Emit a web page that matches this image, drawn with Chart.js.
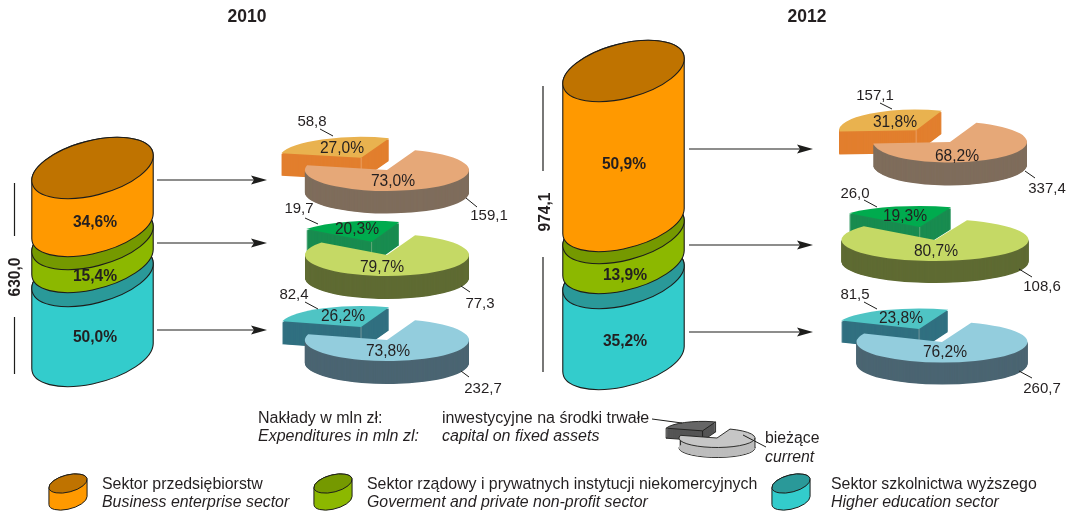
<!DOCTYPE html>
<html lang="pl">
<head>
<meta charset="utf-8">
<title>Nakłady 2010 i 2012</title>
<style>
html,body{margin:0;padding:0;background:#fff;width:1068px;height:511px;overflow:hidden}
#stage{position:relative;width:1068px;height:511px;overflow:hidden;font-family:"Liberation Sans",Arial,sans-serif;color:#231f20}
#stage canvas{position:absolute;pointer-events:none}
.t{position:absolute;white-space:nowrap;line-height:1;font-size:15.6px}
.c{transform:translate(-50%,-50%)}
.l{transform:translate(0,-50%)}
.b{font-weight:bold}
.i{font-style:italic}
.r{transform:translate(-50%,-50%) rotate(-90deg);font-weight:bold}
</style>
</head>
<body>
<div id="stage"></div>
<script src="https://cdn.jsdelivr.net/npm/chart.js@4/dist/chart.umd.min.js"></script>
<script>
// ---------- data ----------
const years = ['2010', '2012'];
const totals = [630.0, 974.1];
const shares2010 = [34.6, 15.4, 50.0];
const shares2012 = [50.9, 13.9, 35.2];
const capital2010 = [58.8, 19.7, 82.4];
const current2010 = [159.1, 77.3, 232.7];
const capital2012 = [157.1, 26.0, 81.5];
const current2012 = [337.4, 108.6, 260.7];
const capitalShare2010 = [27.0, 20.3, 26.2];
const currentShare2010 = [73.0, 79.7, 73.8];
const capitalShare2012 = [31.8, 19.3, 23.8];
const currentShare2012 = [68.2, 80.7, 76.2];
const legendPieValues = [26, 74];
const legendCylinderValue = [1];
const sectorNames = ['Sektor przedsiębiorstw', 'Sektor rządowy i prywatnych instytucji niekomercyjnych', 'Sektor szkolnictwa wyższego'];
const sectorNamesEn = ['Business enterprise sector', 'Goverment and private non-profit sector', 'Higher education sector'];

// ---------- styles and layout ----------
const faceColors = ['#FF9900', '#8CB800', '#33CCCC'];
const capColors = ['#BF7300', '#759900', '#2A9999'];
const wedgeTop = ['#E9B24F', '#00AB4E', '#4FC4C4'];
const wedgeWall = ['#E27F2E', '#198C50', '#317080'];
const bigTop = ['#E6A878', '#C5D965', '#93CDDD'];
const bigWall = ['#7F6D5C', '#5F6B33', '#4B6572'];
const TILT = -14.5 * Math.PI / 180;
const OFFSET_DIVISOR = 4; // Chart.js arcs move by offset / 4

const stage = document.getElementById('stage');
const fmt = v => v.toFixed(1).replace('.', ',');
function text(str, x, y, cls, size) {
  const d = document.createElement('div');
  d.className = 't ' + cls;
  d.textContent = str;
  d.style.left = x + 'px';
  d.style.top = y + 'px';
  if (size) d.style.fontSize = size + 'px';
  stage.appendChild(d);
}
function addCanvas(left, top, w, h) {
  const c = document.createElement('canvas');
  c.style.left = left + 'px';
  c.style.top = top + 'px';
  c.style.width = w + 'px';
  c.style.height = h + 'px';
  c.width = w; c.height = h;
  stage.appendChild(c);
  return c.getContext('2d');
}
const baseOptions = {
  responsive: false, animation: false, events: [], devicePixelRatio: 1,
  layout: { padding: 0 }
};
const noChrome = { legend: { display: false }, tooltip: { enabled: false } };

// ---------- cylinders: bars drawn through their own scales ----------
const cylinderPlugin = {
  id: 'cylinder',
  beforeDatasetsDraw(chart, args, opts) {
    const ctx = chart.ctx;
    for (let i = chart.data.datasets.length - 1; i >= 0; i--) {
      const bar = chart.getDatasetMeta(i).data[0];
      const X = bar.width / 2;
      const rx = X * 1.03, ry = X * 0.45;
      const yTop = bar.y, yBase = bar.base, cx = bar.x;
      const t0 = Math.atan2(-ry * Math.sin(TILT), rx * Math.cos(TILT));
      ctx.save();
      ctx.lineWidth = opts.lineWidth;
      ctx.strokeStyle = '#1d1d1b';
      ctx.lineJoin = 'round';
      ctx.beginPath();
      ctx.ellipse(cx, yBase, rx, ry, TILT, t0, t0 + Math.PI, false);
      ctx.ellipse(cx, yTop, rx, ry, TILT, t0 + Math.PI, t0 + 2 * Math.PI, false);
      ctx.closePath();
      ctx.fillStyle = bar.options.backgroundColor;
      ctx.fill();
      ctx.stroke();
      ctx.beginPath();
      ctx.ellipse(cx, yTop, rx, ry, TILT, 0, 2 * Math.PI);
      ctx.fillStyle = chart.data.datasets[i].capColor;
      ctx.fill();
      ctx.stroke();
      ctx.restore();
    }
    return false;
  }
};
function cylinder(cx, width, values, tops, bottoms, faces, caps, lineWidth) {
  const W = width + 14, H = 511;
  const scales = { x: { display: false } };
  const datasets = values.map((v, i) => {
    const ppu = (bottoms[i] - tops[i]) / v;
    scales['y' + i] = { display: false, min: -(H - bottoms[i]) / ppu, max: v + tops[i] / ppu };
    return {
      data: [v], yAxisID: 'y' + i, grouped: false, barThickness: width,
      backgroundColor: faces[i], capColor: caps[i]
    };
  });
  new Chart(addCanvas(cx - W / 2, 0, W, H), {
    type: 'bar',
    data: { labels: [''], datasets },
    options: { ...baseOptions, scales, plugins: { ...noChrome, cylinder: { lineWidth } } },
    plugins: [cylinderPlugin]
  });
}
cylinder(92.5, 121, shares2010, [168, 239, 276], [226, 262, 356], faceColors, capColors, 1.1);
cylinder(623.5, 121, shares2012, [71, 233, 278], [221, 263, 359], faceColors, capColors, 1.1);
cylinder(68, 38, legendCylinderValue, [483.5], [500.5], [faceColors[0]], [capColors[0]], 1);
cylinder(333, 38, legendCylinderValue, [483.5], [500.5], [faceColors[1]], [capColors[1]], 1);
cylinder(790.5, 38, legendCylinderValue, [483.5], [500.5], [faceColors[2]], [capColors[2]], 1);

// ---------- pies: arcs laid out by Chart.js, squashed and extruded ----------
const piePlugin = {
  id: 'pie3d',
  beforeDatasetsDraw(chart, args, o) {
    const ctx = chart.ctx, arcs = chart.getDatasetMeta(0).data;
    const cx = chart.width / 2, cy = chart.height / 2, k = o.k, depth = o.depth;
    const squash = () => { ctx.translate(cx, cy); ctx.scale(1, k); ctx.translate(-cx, -cy); };
    const shift = arc => (arc.options.offset || 0) / OFFSET_DIVISOR;
    const sectorPath = (arc, dy, R) => {
      const mid = (arc.startAngle + arc.endAngle) / 2, off = shift(arc);
      const ax = arc.x + Math.cos(mid) * off, ay = arc.y + Math.sin(mid) * off + dy;
      ctx.beginPath();
      ctx.moveTo(ax, ay);
      ctx.arc(ax, ay, R, arc.startAngle, arc.endAngle);
      ctx.closePath();
    };
    arcs.forEach((arc, i) => {
      const own = arc.options;
      const R = arc.outerRadius;
      const mid = (arc.startAngle + arc.endAngle) / 2, off = shift(arc);
      const ax = arc.x + Math.cos(mid) * off, ay = arc.y + Math.sin(mid) * off;
      // the library widens an exploded arc slightly; keep the true radius
      const widen = off * (1 - Math.sin(Math.min(Math.PI, arc.circumference)));
      arc.outerRadius = R - widen;
      ctx.save();
      squash();
      const wallOptions = Object.assign(Object.create(own), { backgroundColor: o.walls[i], borderWidth: 0 });
      const wall = d => {
        ctx.save();
        ctx.translate(0, d / k);
        arc.options = wallOptions;
        arc.draw(ctx);
        arc.options = own;
        ctx.restore();
      };
      const strokeNow = () => { ctx.save(); ctx.setTransform(1, 0, 0, 1, 0, 0); ctx.lineWidth = 0.9; ctx.strokeStyle = '#1d1d1b'; ctx.stroke(); ctx.restore(); };
      wall(depth);
      if (o.outline) {
        sectorPath(arc, depth / k, R);
        strokeNow();
      }
      for (let d = depth - 0.6; d >= 1; d -= 0.5) wall(d);
      if (o.outline) {
        const pts = [[ax, ay]];
        [arc.startAngle, arc.endAngle].forEach(t => pts.push([ax + Math.cos(t) * R, ay + Math.sin(t) * R]));
        if (i === 1) pts.push([ax + R, ay]);
        pts.forEach(p => { ctx.beginPath(); ctx.moveTo(p[0], p[1]); ctx.lineTo(p[0], p[1] + depth / k); strokeNow(); });
        arc.draw(ctx);
        sectorPath(arc, 0, R);
        strokeNow();
      } else {
        if (i === 0) {
          ctx.strokeStyle = 'rgba(255,235,210,.75)';
          ctx.lineWidth = 0.7;
          ctx.beginPath();
          ctx.moveTo(ax, ay);
          ctx.lineTo(ax, ay + depth / k);
          ctx.stroke();
        }
        arc.draw(ctx);
      }
      ctx.restore();
      arc.outerRadius = R;
    });
    return false;
  }
};
function pie(cx, cy, R, k, depth, rotation, offset, values, tops, walls, outline) {
  const S = 340;
  new Chart(addCanvas(cx - S / 2, cy - S / 2, S, S), {
    type: 'pie',
    data: {
      labels: ['capital', 'current'],
      datasets: [{
        data: values, backgroundColor: tops, borderWidth: 0,
        offset: [offset * OFFSET_DIVISOR, 0], radius: R, rotation
      }]
    },
    options: {
      ...baseOptions,
      plugins: { ...noChrome, pie3d: { k, depth, walls, outline: !!outline } }
    },
    plugins: [piePlugin]
  });
}
const pieLayout2010 = [
  { cx: 387, cy: 170, R: 82, k: .256, depth: 22.5, offset: 54 },
  { cx: 387, cy: 254.5, R: 82, k: .256, depth: 23, offset: 54 },
  { cx: 386.5, cy: 340, R: 82, k: .256, depth: 23, offset: 57 }
];
const pieLayout2012 = [
  { cx: 950, cy: 142, R: 77, k: .266, depth: 23, offset: 56 },
  { cx: 934.5, cy: 240, R: 93.5, k: .225, depth: 22, offset: 60 },
  { cx: 941.5, cy: 341.5, R: 85.5, k: .24, depth: 22, offset: 59 }
];
function pieGroup(layout, capital, current) {
  layout.forEach((p, i) => {
    const sweep = 360 * capital[i] / (capital[i] + current[i]);
    pie(p.cx, p.cy, p.R, p.k, p.depth, 20 - sweep, p.offset, [capital[i], current[i]],
        [wedgeTop[i], bigTop[i]], [wedgeWall[i], bigWall[i]]);
  });
}
pieGroup(pieLayout2010, capital2010, current2010);
pieGroup(pieLayout2012, capital2012, current2012);
pie(717, 438, 38, .25, 10, 20 - 360 * legendPieValues[0] / 100, 32, legendPieValues,
    ['#666666', '#C6C6C6'], ['#555555', '#BDBDBD'], true);

// ---------- leader lines and arrows ----------
const arrowRows = [[157, 267, 180], [157, 267, 243], [157, 267, 330], [689, 813, 149], [689, 813, 245], [689, 813, 332]];
const leaders = [
  [320, 129, 333, 136], [466, 198, 477, 207], [305, 218, 318, 224], [461, 286, 470, 292],
  [305, 302, 318, 309], [461, 371, 469, 377], [880, 103, 892, 109], [1025, 171, 1035, 178],
  [864, 200, 877, 207], [1019, 269, 1032, 277], [864, 302, 877, 309], [1019, 371, 1032, 378],
  [652, 419, 682, 423], [743, 435, 766, 447]
];
const totalRules = [[14.5, 183, 236], [14.5, 317, 374], [543, 86, 171], [543, 257, 372]];
const annotationPlugin = {
  id: 'annotations',
  afterDraw(chart) {
    const ctx = chart.ctx;
    ctx.save();
    ctx.strokeStyle = '#1d1d1b';
    ctx.fillStyle = '#1d1d1b';
    ctx.lineWidth = 1.2;
    arrowRows.forEach(([a, b, y]) => {
      ctx.beginPath(); ctx.moveTo(a, y); ctx.lineTo(b - 8, y); ctx.stroke();
      ctx.beginPath(); ctx.moveTo(b, y); ctx.lineTo(b - 16, y - 4.5); ctx.lineTo(b - 13, y); ctx.lineTo(b - 16, y + 4.5); ctx.closePath(); ctx.fill();
    });
    ctx.lineWidth = 1;
    leaders.forEach(([a, b, c, d]) => { ctx.beginPath(); ctx.moveTo(a, b); ctx.lineTo(c, d); ctx.stroke(); });
    ctx.lineWidth = 1.2;
    totalRules.forEach(([x, a, b]) => { ctx.beginPath(); ctx.moveTo(x, a); ctx.lineTo(x, b); ctx.stroke(); });
    ctx.restore();
  }
};
new Chart(addCanvas(0, 0, 1068, 511), {
  type: 'scatter',
  data: { datasets: [] },
  options: { ...baseOptions, scales: { x: { display: false }, y: { display: false } }, plugins: noChrome },
  plugins: [annotationPlugin]
});

// ---------- text ----------
text(years[0], 247, 17, 'c b', 17.5);
text(years[1], 807, 17, 'c b', 17.5);
text(fmt(totals[0]), 15, 277, 'r');
text(fmt(totals[1]), 545, 212, 'r');
const pct = v => fmt(v) + '%';
[[95, 222], [95, 276], [95, 337]].forEach((p, i) => text(pct(shares2010[i]), p[0], p[1], 'c b'));
[[624, 164], [625, 275], [625, 341]].forEach((p, i) => text(pct(shares2012[i]), p[0], p[1], 'c b'));
[[342, 148], [357, 229], [343, 316]].forEach((p, i) => text(pct(capitalShare2010[i]), p[0], p[1], 'c'));
[[393, 181], [382, 267], [388, 351]].forEach((p, i) => text(pct(currentShare2010[i]), p[0], p[1], 'c'));
[[895, 122], [905, 216], [901, 318]].forEach((p, i) => text(pct(capitalShare2012[i]), p[0], p[1], 'c'));
[[957, 156], [936, 251], [945, 352]].forEach((p, i) => text(pct(currentShare2012[i]), p[0], p[1], 'c'));
[[312, 120], [299, 207], [294, 293]].forEach((p, i) => text(fmt(capital2010[i]), p[0], p[1], 'c', 15));
[[489, 214], [480, 302], [483, 387]].forEach((p, i) => text(fmt(current2010[i]), p[0], p[1], 'c', 15));
[[875, 94], [855, 192], [855, 293]].forEach((p, i) => text(fmt(capital2012[i]), p[0], p[1], 'c', 15));
[[1047, 187], [1042, 285], [1042, 387]].forEach((p, i) => text(fmt(current2012[i]), p[0], p[1], 'c', 15));
text('Nakłady w mln zł:', 258, 418, 'l', 16);
text('Expenditures in mln zl:', 258, 436, 'l i', 16);
text('inwestycyjne na środki trwałe', 442, 418, 'l', 16);
text('capital on fixed assets', 442, 436, 'l i', 16);
text('bieżące', 765, 438, 'l', 15.8);
text('current', 765, 457, 'l i', 15.8);
[102, 367, 831].forEach((x, i) => {
  text(sectorNames[i], x, 484, 'l', 15.9);
  text(sectorNamesEn[i], x, 502, 'l i', 15.9);
});
</script>
</body>
</html>
